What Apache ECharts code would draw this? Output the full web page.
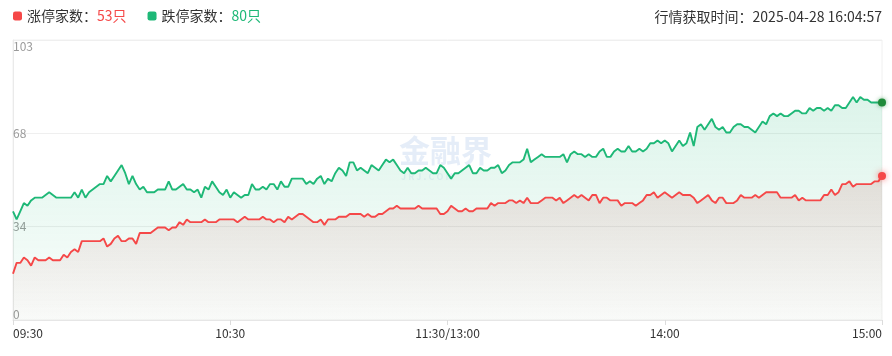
<!DOCTYPE html>
<html>
<head>
<meta charset="utf-8">
<script src="https://cdn.jsdelivr.net/npm/echarts@6/dist/echarts.min.js"></script>
<style>
html,body{margin:0;padding:0;background:#fff;}
#main{width:892px;height:356px;}
</style>
</head>
<body>
<div id="main"></div>
<script>
// ---- data ----
var seriesNames = ['涨停家数', '跌停家数'];
var xTickLabels = ['09:30', '10:30', '11:30/13:00', '14:00', '15:00'];
var yTickValues = [0, 34, 68, 103];
var updateTime = '行情获取时间：2025-04-28 16:04:57';

var limitUp = [
  17,21,21,23,22,20,23,22,22,22,
  23,22,22,22,24,23,25,26,25,29,
  29,29,29,29,29,30,27,28,30,31,
  29,29,30,30,28,32,32,32,32,33,
  34,34,34,33,34,34,36,35,37,36,
  36,36,36,37,36,36,36,37,37,37,
  37,37,36,37,38,37,37,37,37,38,
  37,37,36,37,37,36,38,37,38,39,
  39,38,37,36,36,37,35,37,37,37,
  38,38,38,39,39,39,39,38,39,38,
  38,39,39,40,41,41,42,41,41,41,
  41,41,42,41,41,41,41,41,39,39,
  40,42,41,40,40,41,40,40,41,41,
  41,41,43,42,43,43,43,44,44,43,
  44,43,45,43,43,43,44,45,45,45,
  44,45,43,44,45,46,45,46,45,44,
  46,46,43,45,45,44,44,44,42,43,
  43,43,42,43,44,46,46,47,45,46,
  47,46,45,46,47,46,46,46,45,43,
  44,45,46,44,43,45,45,43,43,43,
  44,46,45,45,45,46,45,46,47,47,
  47,47,45,45,45,45,46,44,45,44,
  44,44,44,44,46,46,48,46,47,50,
  50,51,49,50,50,50,50,50,51,51,
  53
];
var limitDown = [
  40,37,40,43,42,44,45,45,45,46,
  47,46,45,45,45,45,45,47,45,48,
  45,47,48,49,50,50,53,51,53,55,
  57,54,50,53,50,48,49,47,47,47,
  48,48,48,51,48,48,49,50,48,48,
  47,48,45,49,48,51,49,47,46,48,
  45,47,46,45,46,46,50,48,48,49,
  48,50,50,48,51,49,49,52,52,52,
  52,50,51,50,52,53,50,52,51,54,
  56,55,53,58,58,55,56,55,54,57,
  56,55,57,59,58,59,57,55,54,56,
  54,54,55,55,56,55,54,54,57,56,
  54,52,54,54,55,56,57,54,54,56,
  55,55,56,56,57,54,55,57,58,58,
  58,59,63,58,59,60,61,60,60,60,
  60,60,61,58,61,62,61,61,60,61,
  60,60,62,63,60,60,62,63,62,62,
  64,62,62,63,62,63,65,65,66,65,
  66,65,62,64,66,64,65,69,64,71,
  72,70,72,74,71,70,71,69,69,71,
  72,72,71,71,70,69,71,73,72,75,
  76,75,76,75,75,76,77,77,76,76,
  78,77,78,78,77,78,77,79,79,78,
  78,80,82,80,82,81,81,80,80,80,
  80
];

// ---- categories: trading minutes 09:30-11:30 / 13:00-15:00 ----
function pad(n){ return (n < 10 ? '0' : '') + n; }
var categories = [];
for (var i = 0; i < limitUp.length; i++) {
  var label;
  if (i < 120) { var m = 9 * 60 + 30 + i; label = pad(Math.floor(m / 60)) + ':' + pad(m % 60); }
  else if (i === 120) { label = '11:30/13:00'; }
  else { var m2 = 13 * 60 + (i - 120); label = pad(Math.floor(m2 / 60)) + ':' + pad(m2 % 60); }
  categories.push(label);
}

var RED = '#f54848';
var GREEN = '#1eb877';
var lastUp = limitUp[limitUp.length - 1];
var lastDown = limitDown[limitDown.length - 1];
var FONT = '"Noto Sans CJK SC", "Noto Sans", sans-serif';

var chart = echarts.init(document.getElementById('main'), null, {renderer: 'canvas'});
var yMax = yTickValues[yTickValues.length - 1];

chart.setOption({
  animation: false,
  textStyle: {fontFamily: FONT},
  title: {
    text: updateTime,
    right: 10, top: 10, padding: 0,
    textStyle: {fontSize: 14, fontWeight: 'normal', color: '#333', fontFamily: FONT}
  },
  legend: {
    left: 13, top: 9, padding: 0,
    itemWidth: 9, itemHeight: 9, itemGap: 21,
    icon: 'roundRect',
    data: seriesNames,
    formatter: function (name) {
      if (name === seriesNames[0]) return '{a|' + name + '：}{r|' + lastUp + '只}';
      return '{a|' + name + '：}{g|' + lastDown + '只}';
    },
    textStyle: {
      fontSize: 14, color: '#333', fontFamily: FONT,
      rich: {
        a: {fontSize: 14, color: '#333', fontFamily: FONT},
        r: {fontSize: 14, color: RED, fontFamily: FONT},
        g: {fontSize: 14, color: GREEN, fontFamily: FONT}
      }
    }
  },
  graphic: [
    {type: 'text', left: 399, top: 135, z: 0, silent: true,
     style: {text: '金融界', font: 'bold 31px ' + FONT, fill: 'rgba(70,130,205,0.14)'}},
    {type: 'text', left: 401, top: 172, z: 0, silent: true,
     style: {text: 'J R J . C O M', font: 'bold 9px ' + FONT, fill: 'rgba(70,130,205,0.10)'}}
  ],
  grid: {left: 13, right: 10, top: 40, bottom: 36, show: true, borderColor: '#f0f0f0', borderWidth: 1},
  xAxis: {
    type: 'category',
    boundaryGap: false,
    data: categories,
    axisLine: {lineStyle: {color: '#e6e6e6'}},
    axisTick: {
      length: 5, lineStyle: {color: '#dcdcdc'},
      interval: function (idx, v) { return xTickLabels.indexOf(v) >= 0; }
    },
    axisLabel: {
      color: '#333', fontSize: 12, margin: 7,
      interval: function (idx, v) { return xTickLabels.indexOf(v) >= 0; },
      alignMinLabel: 'left', alignMaxLabel: 'right'
    },
    splitLine: {show: false}
  },
  yAxis: {
    type: 'value',
    min: 0, max: yMax, interval: yMax / 3,
    axisLine: {show: true, lineStyle: {color: '#eaeaea'}},
    axisTick: {show: false},
    axisLabel: {
      inside: true, margin: 0, color: '#9a9a9a', fontSize: 12,
      verticalAlign: 'middle',
      verticalAlignMinLabel: 'bottom', verticalAlignMaxLabel: 'top',
      formatter: function (v) {
        var best = yTickValues[0];
        yTickValues.forEach(function (t) { if (Math.abs(t - v) < Math.abs(best - v)) best = t; });
        return String(best);
      }
    },
    splitLine: {lineStyle: {color: '#efefef'}}
  },
  series: [
    {
      name: seriesNames[1], type: 'line', data: limitDown, symbol: 'none', showSymbol: false,
      color: GREEN, z: 2,
      lineStyle: {width: 1.9, color: GREEN},
      areaStyle: {color: new echarts.graphic.LinearGradient(0, 0, 0, 1, [
        {offset: 0, color: 'rgba(30,184,119,0.22)'},
        {offset: 1, color: 'rgba(30,184,119,0.03)'}
      ])},
      markPoint: {
        symbol: 'circle', symbolSize: 8, silent: true,
        label: {show: false},
        itemStyle: {color: '#1f8a3a', shadowBlur: 4, shadowColor: 'rgba(31,138,58,0.6)'},
        data: [{coord: [limitDown.length - 1, lastDown]}]
      }
    },
    {
      name: seriesNames[0], type: 'line', data: limitUp, symbol: 'none', showSymbol: false,
      color: RED, z: 3,
      lineStyle: {width: 1.9, color: RED},
      areaStyle: {color: new echarts.graphic.LinearGradient(0, 0, 0, 1, [
        {offset: 0, color: 'rgba(195,100,100,0.25)'},
        {offset: 1, color: 'rgba(195,100,100,0.03)'}
      ])},
      markPoint: {
        symbol: 'circle', symbolSize: 8, silent: true,
        label: {show: false},
        itemStyle: {color: RED, shadowBlur: 6, shadowColor: 'rgba(245,72,72,0.7)'},
        data: [{coord: [limitUp.length - 1, lastUp]}]
      }
    }
  ]
});
</script>
</body>
</html>
